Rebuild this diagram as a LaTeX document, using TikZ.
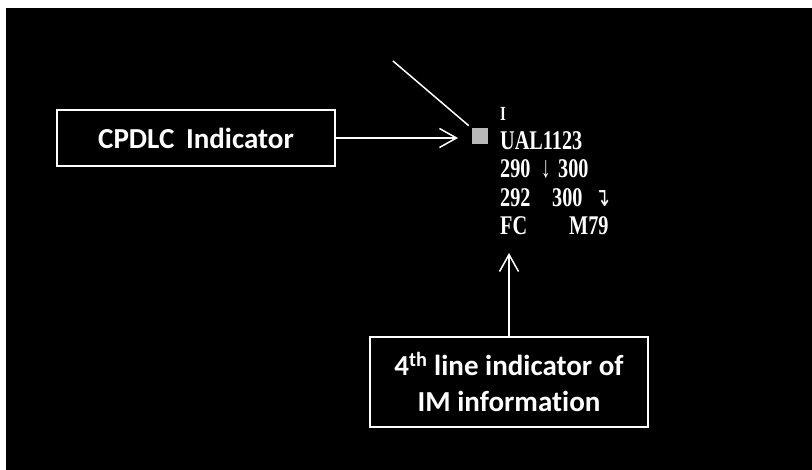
\documentclass[tikz,border=0pt]{standalone}
\usepackage{fontspec}
\setmainfont{Carlito}[Ligatures=NoCommon]
\newfontfamily\tnr{Liberation Serif}
\newfontfamily\djv{DejaVu Sans}
\usetikzlibrary{arrows.meta}
\newcommand\sqz[1]{\scalebox{0.75}[1]{#1}}
\begin{document}
\begin{tikzpicture}[x=1pt,y=-1pt,
  lbl/.style={draw=white, line width=2pt, text=white, font=\fontsize{29}{36}\selectfont\bfseries, align=center, inner sep=0pt},
  dat/.style={text=white, anchor=base west, inner sep=0pt, font=\tnr\bfseries\fontsize{27}{28}\selectfont},
  conn/.style={white, line width=1.5pt},
  arr/.style={conn, -{Straight Barb[length=17pt,width=19pt,line width=1.5pt]}}]
\useasboundingbox (0,0) rectangle (812,470);
\fill[white] (0,0) rectangle (812,470);
\fill[black] (6,8) rectangle (812,470);
% boxes
\node[lbl, minimum width=278pt, minimum height=56pt] (cpdlc) at (196,138) {CPDLC\hspace{0.4em}Indicator};
\node[lbl, minimum width=278pt, minimum height=90pt] (im) at (509,382) {4\textsuperscript{th} line indicator of\\IM information};
% CPDLC symbol
\node[fill=gray!55, minimum size=16pt, inner sep=0pt] (sym) at (480,136.5) {};
% data block
\node[dat, font=\tnr\bfseries\fontsize{20}{20}\selectfont] (tagI) at (500,121) {\sqz{I}};
\node[dat] (call) at (500,150) {\sqz{UAL1123}};
\node[dat] (alt1) at (500,178) {\sqz{290}};
\node[dat] (down) at (541,178) {\scalebox{0.7}[1.12]{↓}};
\node[dat] (alt2) at (558,178) {\sqz{300}};
\node[dat] (alt3) at (500,207) {\sqz{292}};
\node[dat] (alt4) at (552,207) {\sqz{300}};
\node[dat, font=\djv\fontsize{22}{22}\selectfont] (hook) at (595,207) {\scalebox{0.8}[1.2]{↴}};
\node[dat] (fc) at (500,235) {\sqz{FC}};
\node[dat] (m79) at (569,235) {\sqz{M79}};
% connectors
\coordinate (cpdlctip) at (458,138);
\coordinate (imtip) at (509,253);
\coordinate (diagstart) at (393,61);
\draw[arr] (cpdlc.east) -- (cpdlctip);
\draw[arr] (im.north) -- (imtip);
\draw[conn, shorten >=4pt] (diagstart) -- (sym.north west);
\end{tikzpicture}
\end{document}
